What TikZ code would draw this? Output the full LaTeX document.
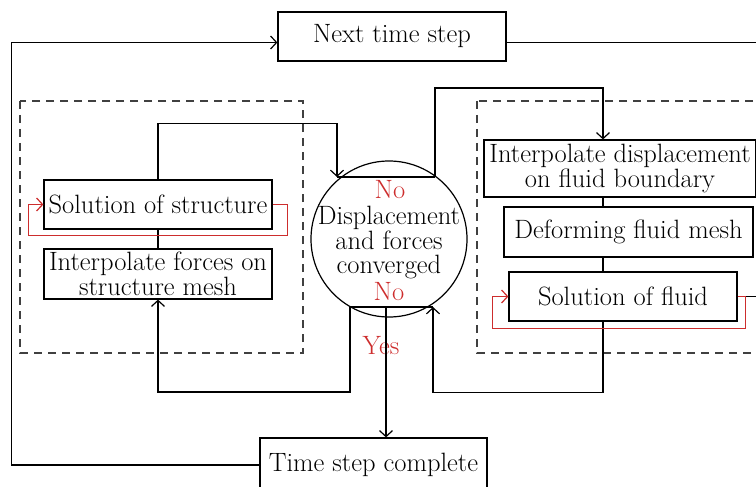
\documentclass[tikz,border=0pt]{standalone}
\usepackage{fontspec}
\usetikzlibrary{arrows.meta}
\definecolor{loopred}{RGB}{205,45,45}
\definecolor{dashgray}{RGB}{64,64,64}
\begin{document}
\begin{tikzpicture}[x=1pt,y=-1pt,line width=1.2pt,
        >={Straight Barb[length=6pt,width=13pt]},
        every node/.append style={font=\fontsize{26.5}{24.5}\selectfont},
        box/.style={draw,inner sep=0pt,align=center},
        dashbox/.style={draw=dashgray,dash pattern=on 8pt off 6pt},
        loopline/.style={draw=loopred,->},
        tag/.style={text=loopred,inner sep=0pt}]
        \useasboundingbox (0,0) rectangle (756,487);
        \clip (0,0) rectangle (756,487);
        \draw[dashbox] (20,101) rectangle (303,353);
        \draw[dashbox] (477,101) rectangle (790,353);
        \node[box,minimum width=228pt,minimum height=49pt] (nts) at (392,36.5) {Next time step};
        \node[box,minimum width=227pt,minimum height=54pt] (tsc) at (373.5,465) {Time step complete};
        \node[box,minimum width=228pt,minimum height=49pt] (sols) at (158,204.5) {Solution of structure};
        \node[box,minimum width=228pt,minimum height=50pt] (inf) at (158,274) {Interpolate forces on\\structure mesh};
        \node[box,minimum width=272pt,minimum height=57pt] (intd) at (620,168.5) {Interpolate displacement\\on fluid boundary};
        \node[box,minimum width=249pt,minimum height=50pt] (dfm) at (628.5,232) {Deforming fluid mesh};
        \node[box,minimum width=228pt,minimum height=49pt] (sof) at (623,296.5) {Solution of fluid};
        \node[circle,draw,minimum size=156pt,inner sep=0pt] (conv) at (389,239) {};
        \node[align=center,inner sep=0pt] (convtxt) at (389,243) {Displacement\\and forces\\converged};
        \node[tag] (notop) at (390,190) {No};
        \node[tag] (nobot) at (389,292) {No};
        \node[tag] (yes) at (381,346) {Yes};
        \coordinate (topL) at (337,177);
        \coordinate (topR) at (435,177);
        \coordinate (botL) at (350,307);
        \coordinate (botR) at (433,307);
        \coordinate (ymid) at (386,307);
        \coordinate (fx) at (603,0);
        \draw[->] (tsc.west) -- ++(-248,0) |- ([yshift=-6pt]nts.west);
        \draw ([yshift=-6pt]nts.east) -- ++(300,0);
        \draw[->] (sols.north) -- ++(0,-56) -| (topL);
        \draw (topL) -- (topR);
        \draw[->] (topR) -- ++(0,-89) -| (intd.north -| fx);
        \draw (intd.south -| fx) -- (dfm.north -| fx);
        \draw (dfm.south -| fx) -- (sof.north -| fx);
        \draw (sols.south) -- (inf.north);
        \draw (botL) -- (botR);
        \draw[->] (botL) -- ++(0,85) -| (inf.south);
        \draw[->] (sof.south -| fx) -- ++(0,71) -| (botR);
        \draw[->] (ymid) -- (ymid |- tsc.north);
        \draw (sof.east) -- ++(30,0);
        \draw[loopline] (sols.east) -- ++(15,0) -- ++(0,31) -| ([xshift=-15pt]sols.west) -- (sols.west);
        \draw[loopline] (sof.east) -- ++(8,0) -- ++(0,32) -| ([xshift=-16pt]sof.west) -- (sof.west);
    \end{tikzpicture}
\end{document}
